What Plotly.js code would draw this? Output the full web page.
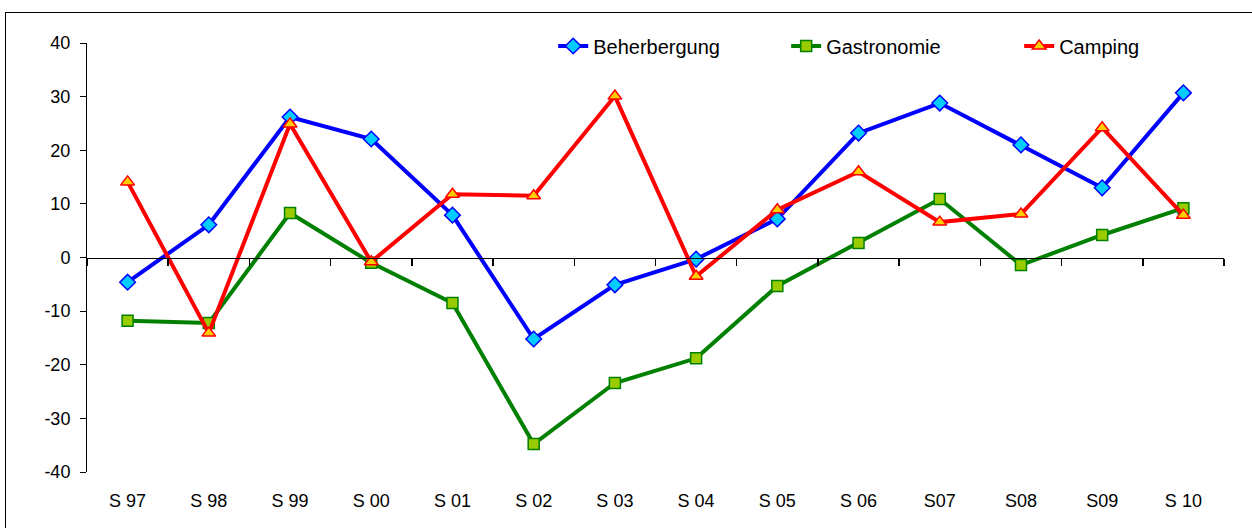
<!DOCTYPE html>
<html>
<head>
<meta charset="utf-8">
<script src="https://cdn.plot.ly/plotly-3.0.1.min.js"></script>
<style>
  body { margin: 0; background: #fff; }
  #plotArea { width: 1252px; height: 528px; }
  #frame { position: absolute; left: 5px; top: 12px; width: 1252px; height: 530px;
           border: 1px solid #000; pointer-events: none; }
</style>
</head>
<body>
<div id="plotArea"></div>
<div id="frame"></div>
<script>
// seasons
var seasons = ["S 97", "S 98", "S 99", "S 00", "S 01", "S 02", "S 03", "S 04", "S 05", "S 06", "S07", "S08", "S09", "S 10"];

// values
var beherbergung = [-4.6, 6.1, 26.2, 22.1, 7.9, -15.2, -5.1, -0.3, 7.2, 23.2, 28.8, 21.0, 13.0, 30.7];
var gastronomie  = [-11.8, -12.2, 8.3, -1.0, -8.5, -34.8, -23.4, -18.8, -5.3, 2.7, 10.9, -1.4, 4.2, 9.2];
var camping      = [14.1, -14.1, 24.9, -0.8, 11.8, 11.5, 30.1, -3.5, 8.9, 16.0, 6.6, 8.1, 24.2, 7.9];

var yTicks = [-40, -30, -20, -10, 0, 10, 20, 30, 40];
var yTickText = ["-40", "-30", "-20", "-10", "0", "10", "20", "30", "40"];

var tickFont = { family: "Liberation Sans, Arial, sans-serif", size: 18, color: "#000" };
var legFont = { family: "Liberation Sans, Arial, sans-serif", size: 20, color: "#000" };

var trace1 = {
    x: seasons, y: beherbergung, name: "Beherbergung",
    type: "scatter", mode: "lines+markers",
    line: { color: "#0000ff", width: 4 },
    marker: { symbol: "diamond", size: 12, color: "#00ccff", line: { color: "#0000ff", width: 1.5 } }
};
var trace2 = {
    x: seasons, y: gastronomie, name: "Gastronomie",
    type: "scatter", mode: "lines+markers",
    line: { color: "#008000", width: 4 },
    marker: { symbol: "square", size: 11, color: "#99cc00", line: { color: "#008000", width: 1.5 } }
};
var trace3 = {
    x: seasons, y: camping, name: "Camping",
    type: "scatter", mode: "lines+markers",
    line: { color: "#ff0000", width: 4 },
    marker: { symbol: "triangle-up", size: 12, color: "#ffcc00", line: { color: "#ff0000", width: 1.5 } }
};
// empty trace so the zero-line axis gets drawn
var axisHelper = { x: [], y: [], xaxis: "x2", showlegend: false, hoverinfo: "skip", type: "scatter" };

var layout = {
    width: 1252, height: 528,
    margin: { l: 87, r: 28, t: 43, b: 56, autoexpand: false },
    paper_bgcolor: "#fff", plot_bgcolor: "#fff",
    font: tickFont,
    showlegend: true,
    legend: { orientation: "h", x: 0.41, xanchor: "left", y: 0.993, yanchor: "middle",
              font: legFont, bgcolor: "rgba(0,0,0,0)", itemwidth: 30,
              entrywidth: 188, entrywidthmode: "pixels" },
    xaxis: {
        type: "category", categoryorder: "array", categoryarray: seasons,
        range: [-0.5, 13.5], showline: false, showgrid: false, zeroline: false,
        ticks: "", ticklabelstandoff: 16, tickfont: tickFont
    },
    xaxis2: {
        overlaying: "x", anchor: "free", position: 0.5, side: "bottom",
        range: [-0.5, 13.5], tick0: -0.5, dtick: 1,
        showline: true, linecolor: "#000", linewidth: 1.5,
        ticks: "outside", ticklen: 7, tickwidth: 1.5, tickcolor: "#000",
        showticklabels: false, showgrid: false, zeroline: false
    },
    yaxis: {
        range: [-40, 40], tickvals: yTicks, ticktext: yTickText,
        showline: true, linecolor: "#000", linewidth: 1,
        ticks: "outside", ticklen: 6, tickcolor: "#000",
        showgrid: false, zeroline: false, tickfont: tickFont, ticklabelstandoff: 6
    }
};

Plotly.newPlot("plotArea", [axisHelper, trace1, trace2, trace3], layout, { staticPlot: true });
</script>
</body>
</html>
